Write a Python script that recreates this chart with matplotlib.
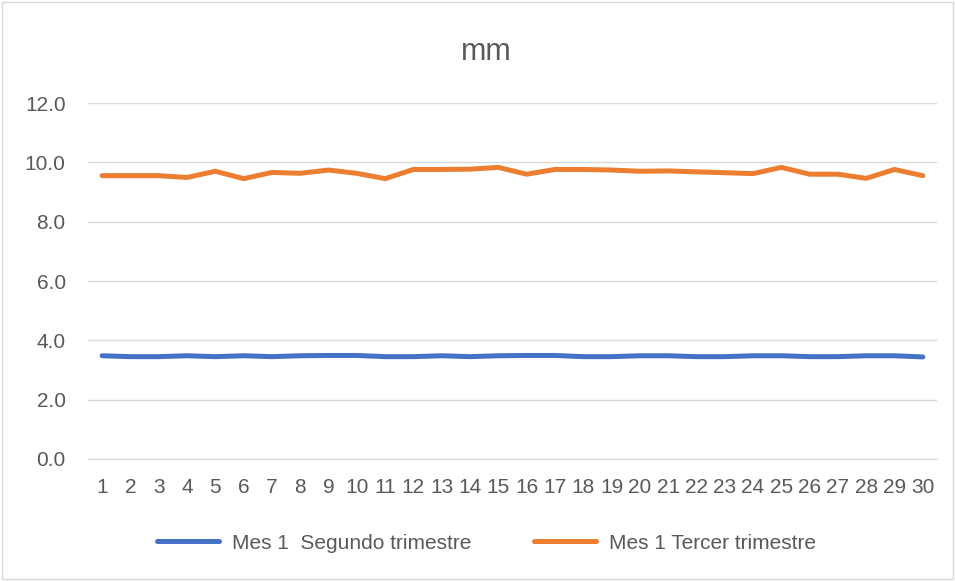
import matplotlib.pyplot as plt
from matplotlib.patches import Rectangle

plt.rcParams['font.family'] = ['Liberation Sans', 'DejaVu Sans']

# days of the month
dias = list(range(1, 31))

segundo = [3.48, 3.45, 3.45, 3.48, 3.45, 3.48, 3.45, 3.48, 3.49, 3.49,
           3.45, 3.45, 3.48, 3.45, 3.48, 3.49, 3.49, 3.45, 3.45, 3.48,
           3.48, 3.45, 3.45, 3.48, 3.48, 3.45, 3.45, 3.48, 3.48, 3.44]

tercer = [9.55, 9.55, 9.55, 9.49, 9.70, 9.45, 9.66, 9.63, 9.74, 9.63,
          9.45, 9.76, 9.76, 9.77, 9.83, 9.60, 9.76, 9.76, 9.74, 9.70,
          9.71, 9.68, 9.65, 9.62, 9.83, 9.60, 9.60, 9.46, 9.76, 9.55]

nombres = ["Mes 1  Segundo trimestre", "Mes 1 Tercer trimestre"]
yticks = [0, 2, 4, 6, 8, 10, 12]

gris = "#595959"

fig = plt.figure(figsize=(9.55, 5.81), dpi=100)
ax = fig.add_axes([0.0921, 0.21, 0.889, 0.6127])

ax.plot(dias, segundo, color="#4472C4", lw=3.6, label=nombres[0],
        solid_capstyle="round", solid_joinstyle="round")
ax.plot(dias, tercer, color="#ED7D31", lw=3.6, label=nombres[1],
        solid_capstyle="round", solid_joinstyle="round")

ax.set_xlim(0.5, 30.5)
ax.set_ylim(0, 12)
ax.set_xticks(dias)
ax.set_xticklabels([str(d) for d in dias])
ax.set_yticks(yticks)
ax.set_yticklabels([f"{v:.1f}" for v in yticks])
ax.tick_params(length=0, labelsize=15, colors=gris)
ax.tick_params(axis="x", pad=14)
ax.tick_params(axis="y", pad=16)

ax.grid(axis="y", color="#D9D9D9", lw=1)
ax.set_axisbelow(True)
for s in ["top", "right", "left"]:
    ax.spines[s].set_visible(False)
ax.spines["bottom"].set_color("#D9D9D9")

fig.text(0.509, 0.91, "mm", ha="center", va="center", fontsize=22, color=gris)

fig.legend(loc="center", bbox_to_anchor=(0.509, 0.065), ncol=2, frameon=False,
           fontsize=15, labelcolor=gris, handlelength=3.0, handletextpad=0.6,
           columnspacing=3.0)

# thin frame round the whole chart
fig.patches.append(Rectangle((0.002, 0.003), 0.996, 0.994, transform=fig.transFigure,
                             fill=False, edgecolor="#D9D9D9", lw=1))

fig.savefig("out.png", dpi=100)
